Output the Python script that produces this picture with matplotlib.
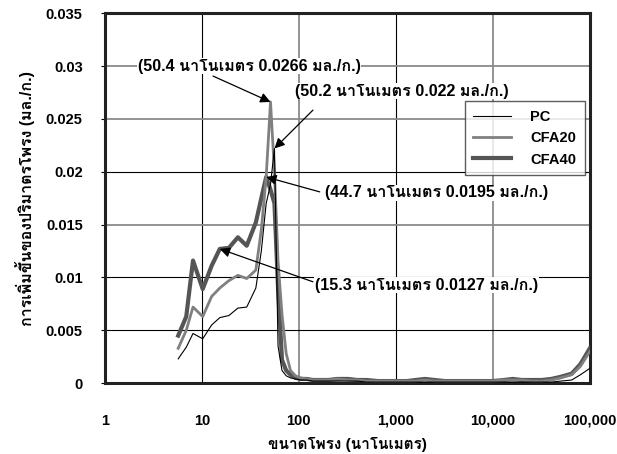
import matplotlib
matplotlib.use("Agg")
import matplotlib.pyplot as plt
import numpy as np
from matplotlib import font_manager as fm
from matplotlib.ft2font import FT2Font

# pore diameter (nm)
pore_size = [5.7, 6.9, 8.1, 10.2, 12.6, 15.3, 19, 23.5, 29, 36, 41, 46, 51, 56, 61,
             67, 74, 82, 92, 105, 120, 140, 170, 200, 250, 320, 400, 500, 650, 800,
             1000, 1300, 1600, 2000, 2500, 3200, 4000, 5000, 6500, 8000, 10000,
             13000, 16000, 20000, 25000, 32000, 40000, 50000, 65000, 80000, 100000]

# incremental pore volume (ml/g)
pc = [0.0023, 0.0034, 0.0047, 0.0042, 0.0055, 0.0062, 0.0064, 0.0071, 0.0072, 0.0090,
      0.0125, 0.0170, 0.0188, 0.0222, 0.0035, 0.0012, 0.0007, 0.0005, 0.0004, 0.0003,
      0.0003, 0.0002, 0.0002, 0.0002, 0.0002, 0.0002, 0.0002, 0.0001, 0.0001, 0.0001,
      0.0001, 0.0001, 0.0001, 0.0001, 0.0001, 0.0001, 0.0001, 0.0001, 0.0001, 0.0001,
      0.0001, 0.0001, 0.0001, 0.0001, 0.0001, 0.0001, 0.0001, 0.0002, 0.0003, 0.0008,
      0.0014]
cfa20 = [0.0033, 0.0050, 0.0072, 0.0063, 0.0082, 0.0090, 0.0097, 0.0102, 0.0099, 0.0107,
         0.0145, 0.0195, 0.0266, 0.0200, 0.0115, 0.0065, 0.0028, 0.0012, 0.0007, 0.0005,
         0.0004, 0.0003, 0.0003, 0.0003, 0.0004, 0.0003, 0.0003, 0.0002, 0.0002, 0.0002,
         0.0002, 0.0002, 0.0002, 0.0003, 0.0002, 0.0002, 0.0002, 0.0002, 0.0002, 0.0002,
         0.0002, 0.0003, 0.0003, 0.0003, 0.0002, 0.0002, 0.0003, 0.0005, 0.0008, 0.0016,
         0.0030]
cfa40 = [0.0045, 0.0063, 0.0116, 0.0089, 0.0111, 0.0127, 0.0128, 0.0138, 0.0130, 0.0152,
         0.0175, 0.0195, 0.0183, 0.0170, 0.0090, 0.0022, 0.0012, 0.0008, 0.0005, 0.0004,
         0.0004, 0.0003, 0.0003, 0.0003, 0.0004, 0.0004, 0.0003, 0.0003, 0.0002, 0.0002,
         0.0002, 0.0002, 0.0003, 0.0004, 0.0003, 0.0002, 0.0002, 0.0002, 0.0002, 0.0002,
         0.0002, 0.0003, 0.0004, 0.0003, 0.0003, 0.0003, 0.0004, 0.0006, 0.0009, 0.0018,
         0.0033]

x_ticks = [1, 10, 100, 1000, 10000, 100000]
x_tick_labels = ["1", "10", "100", "1,000", "10,000", "100,000"]
y_ticks = [0, 0.005, 0.01, 0.015, 0.02, 0.025, 0.03, 0.035]
y_tick_labels = ["0", "0.005", "0.01", "0.015", "0.02", "0.025", "0.03", "0.035"]

# (text, arrow target x, arrow target y)
notes = [
    ("(50.4 นาโนเมตร 0.0266 มล./ก.)", 51, 0.0266),
    ("(50.2 นาโนเมตร 0.022 มล./ก.)", 56, 0.0222),
    ("(44.7 นาโนเมตร 0.0195 มล./ก.)", 46, 0.0195),
    ("(15.3 นาโนเมตร 0.0127 มล./ก.)", 15.3, 0.0127),
]


def find_thai_font():
    for f in fm.fontManager.ttflist:
        try:
            cmap = FT2Font(f.fname).get_charmap()
        except Exception:
            continue
        if 0x0E19 in cmap and 0x0E42 in cmap:
            return f.name
    return None


thai = find_thai_font()
families = ["Liberation Sans"] + ([thai] if thai else []) + ["DejaVu Sans"]
plt.rcParams["font.family"] = families
plt.rcParams["font.weight"] = "bold"

fig = plt.figure(figsize=(6.17, 4.54), dpi=100)
ax = fig.add_axes([0.170, 0.156, 0.786, 0.815])

ax.plot(pore_size, pc, color="black", lw=0.8, label="PC", zorder=5)
ax.plot(pore_size, cfa20, color="#808080", lw=2.0, label="CFA20", zorder=4)
ax.plot(pore_size, cfa40, color="#555555", lw=3.0, label="CFA40", zorder=3)

ax.set_xscale("log")
ax.set_xlim(1, 100000)
ax.set_ylim(0, 0.035)
ax.set_xticks(x_ticks)
ax.set_xticklabels(x_tick_labels)
ax.xaxis.set_minor_locator(matplotlib.ticker.NullLocator())
ax.set_yticks(y_ticks)
ax.set_yticklabels(y_tick_labels)
ax.tick_params(axis="x", length=0, pad=22, labelsize=10.5)
ax.tick_params(axis="y", length=3, width=0.8, pad=13, labelsize=10.5)

ax.grid(True, color="black", lw=0.8)
ax.set_axisbelow(True)
x_grid_colors = ["black", "black", "#8a8a8a", "black", "#8a8a8a", "black"]
y_grid_colors = ["black", "black", "black", "#8a8a8a", "black", "#8a8a8a", "#8a8a8a", "black"]
for line, c in zip(ax.get_xgridlines(), x_grid_colors):
    line.set_color(c)
    if c != "black":
        line.set_linewidth(1.3)
for line, c in zip(ax.get_ygridlines(), y_grid_colors):
    line.set_color(c)
    if c != "black":
        line.set_linewidth(1.3)

for s in ax.spines.values():
    s.set_linewidth(2.2)
    s.set_color("#222222")

ax.set_xlabel("ขนาดโพรง (นาโนเมตร)", fontsize=11, fontweight="bold", labelpad=7)
ax.set_ylabel("การเพิ่มขึ้นของปริมาตรโพรง (มล./ก.)", fontsize=11.5, fontweight="bold", labelpad=8)

# text positions (axes fraction) and arrow start points (axes fraction)
text_pos = [(0.068, 0.857), (0.392, 0.789), (0.454, 0.514), (0.433, 0.265)]
arrow_start = [(0.223, 0.830), (0.429, 0.738), (0.443, 0.517), (0.429, 0.274)]
for (txt, tx, ty), (px, py), (sx, sy) in zip(notes, text_pos, arrow_start):
    ax.text(px, py, txt, transform=ax.transAxes, ha="left", va="center",
            fontsize=11.6, fontweight="bold", zorder=7,
            bbox=dict(facecolor="white", edgecolor="none", pad=0.5))
    ax.annotate("", xy=(tx, ty), xycoords="data", xytext=(sx, sy),
                textcoords="axes fraction", zorder=8,
                arrowprops=dict(arrowstyle="-|>", color="black", lw=0.9,
                                mutation_scale=15, shrinkA=0, shrinkB=0))

leg = ax.legend(loc="upper right", bbox_to_anchor=(0.99, 0.762), borderaxespad=0,
                frameon=True, fancybox=False, edgecolor="#333333",
                handlelength=2.6, handletextpad=1.3, labelspacing=0.5,
                borderpad=0.6, prop={"weight": "bold", "size": 10.5})
leg.get_frame().set_linewidth(1.0)
leg.set_zorder(9)

fig.savefig("out.png", dpi=100)
